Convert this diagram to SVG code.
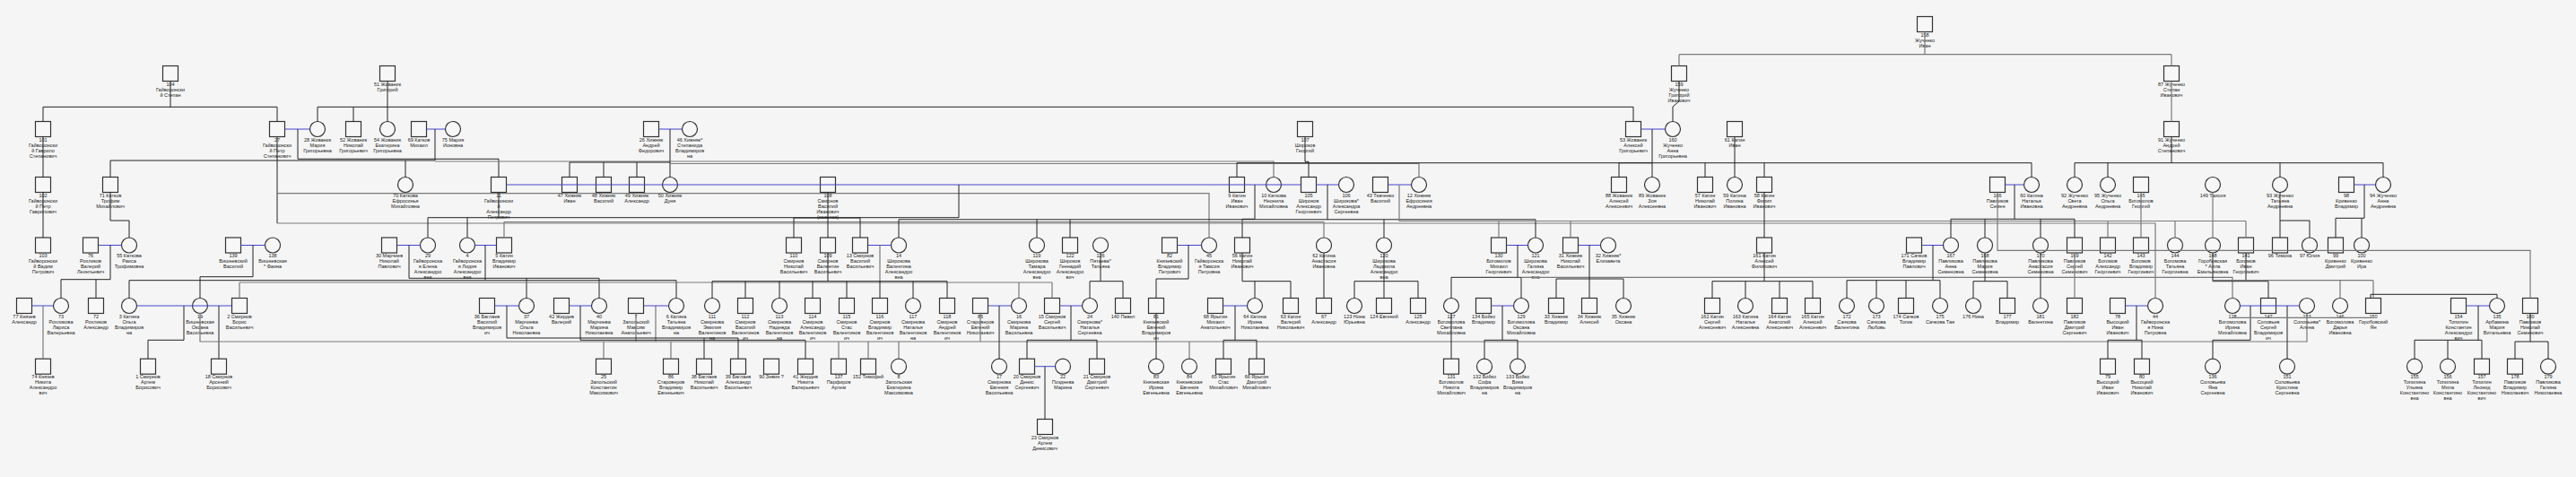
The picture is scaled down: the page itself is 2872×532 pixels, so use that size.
<svg xmlns="http://www.w3.org/2000/svg" xmlns:xlink="http://www.w3.org/1999/xlink" width="2872" height="532" viewBox="0 0 2872 532">
<style>
.nd{fill:#f7f7f7;stroke:#333;stroke-width:1.2}
text{font-family:"Liberation Sans",Arial,sans-serif;font-size:5.5px;fill:#222;text-anchor:middle}
.k{fill:none;stroke:#222;stroke-width:1}
.g{fill:none;stroke:#7a7a7a;stroke-width:1.2}
.b{fill:none;stroke:#4545d0;stroke-width:1}
</style>
<defs>
<rect id="S" class="nd" x="-8.5" y="-8.5" width="17" height="17"/>
<circle id="C" class="nd" r="8.5"/>
</defs>
<rect width="2872" height="532" fill="#f5f5f5"/>
<g id="nodes">
<g id="n158" transform="translate(2146 27)"><use href="#S"/><text y="13.5"><tspan x="0">158</tspan><tspan x="0" dy="6">Жученко</tspan><tspan x="0" dy="6">Иван</tspan></text></g>
<g id="n104" transform="translate(190 82)"><use href="#S"/><text y="13.5"><tspan x="0">104</tspan><tspan x="0" dy="6">Гайворонски</tspan><tspan x="0" dy="6">й Степан</tspan></text></g>
<g id="n51" transform="translate(432 82)"><use href="#S"/><text y="13.5"><tspan x="0">51 Жованик</tspan><tspan x="0" dy="6">Григорий</tspan></text></g>
<g id="n159" transform="translate(1872 82)"><use href="#S"/><text y="13.5"><tspan x="0">159</tspan><tspan x="0" dy="6">Жученко</tspan><tspan x="0" dy="6">Григорий</tspan><tspan x="0" dy="6">Иванович</tspan></text></g>
<g id="n87" transform="translate(2421 82)"><use href="#S"/><text y="13.5"><tspan x="0">87 Жученко</tspan><tspan x="0" dy="6">Степан</tspan><tspan x="0" dy="6">Иванович</tspan></text></g>
<g id="n101" transform="translate(48 144)"><use href="#S"/><text y="13.5"><tspan x="0">101</tspan><tspan x="0" dy="6">Гайворонски</tspan><tspan x="0" dy="6">й Гаврило</tspan><tspan x="0" dy="6">Степанович</tspan></text></g>
<g id="n27" transform="translate(309 144)"><use href="#S"/><text y="13.5"><tspan x="0">27</tspan><tspan x="0" dy="6">Гайворонски</tspan><tspan x="0" dy="6">й Петр</tspan><tspan x="0" dy="6">Степанович</tspan></text></g>
<g id="n28" transform="translate(354 144)"><use href="#C"/><text y="13.5"><tspan x="0">28 Жованик</tspan><tspan x="0" dy="6">Мария</tspan><tspan x="0" dy="6">Григорьевна</tspan></text></g>
<g id="n52" transform="translate(394 144)"><use href="#S"/><text y="13.5"><tspan x="0">52 Жованик</tspan><tspan x="0" dy="6">Николай</tspan><tspan x="0" dy="6">Григорьевич</tspan></text></g>
<g id="n54" transform="translate(432 144)"><use href="#C"/><text y="13.5"><tspan x="0">54 Жованик</tspan><tspan x="0" dy="6">Екатерина</tspan><tspan x="0" dy="6">Григорьевна</tspan></text></g>
<g id="n69" transform="translate(467 144)"><use href="#S"/><text y="13.5"><tspan x="0">69 Катков</tspan><tspan x="0" dy="6">Михаил</tspan></text></g>
<g id="n75" transform="translate(505 144)"><use href="#C"/><text y="13.5"><tspan x="0">75  Мария</tspan><tspan x="0" dy="6">Ионовна</tspan></text></g>
<g id="n26" transform="translate(726 144)"><use href="#S"/><text y="13.5"><tspan x="0">26 Хижняк</tspan><tspan x="0" dy="6">Андрей</tspan><tspan x="0" dy="6">Федорович</tspan></text></g>
<g id="n46" transform="translate(769 144)"><use href="#C"/><text y="13.5"><tspan x="0">46 Хижняк*</tspan><tspan x="0" dy="6">Степанида</tspan><tspan x="0" dy="6">Владимиров</tspan><tspan x="0" dy="6">на</tspan></text></g>
<g id="n107" transform="translate(1455 144)"><use href="#S"/><text y="13.5"><tspan x="0">107</tspan><tspan x="0" dy="6">Широков</tspan><tspan x="0" dy="6">Георгий</tspan></text></g>
<g id="n53" transform="translate(1821 144)"><use href="#S"/><text y="13.5"><tspan x="0">53 Жованик</tspan><tspan x="0" dy="6">Алексей</tspan><tspan x="0" dy="6">Григорьевич</tspan></text></g>
<g id="n160" transform="translate(1865 144)"><use href="#C"/><text y="13.5"><tspan x="0">160</tspan><tspan x="0" dy="6">Жученко</tspan><tspan x="0" dy="6">Анна</tspan><tspan x="0" dy="6">Григорьевна</tspan></text></g>
<g id="n61" transform="translate(1934 144)"><use href="#S"/><text y="13.5"><tspan x="0">61 Катин</tspan><tspan x="0" dy="6">Иван</tspan></text></g>
<g id="n91" transform="translate(2421 144)"><use href="#S"/><text y="13.5"><tspan x="0">91 Жученко</tspan><tspan x="0" dy="6">Андрей</tspan><tspan x="0" dy="6">Степанович</tspan></text></g>
<g id="n102" transform="translate(48 206)"><use href="#S"/><text y="13.5"><tspan x="0">102</tspan><tspan x="0" dy="6">Гайворонски</tspan><tspan x="0" dy="6">й Петр</tspan><tspan x="0" dy="6">Гаврилович</tspan></text></g>
<g id="n71" transform="translate(123 206)"><use href="#S"/><text y="13.5"><tspan x="0">71 Катков</tspan><tspan x="0" dy="6">Трофим</tspan><tspan x="0" dy="6">Михайлович</tspan></text></g>
<g id="n70" transform="translate(452 206)"><use href="#C"/><text y="13.5"><tspan x="0">70 Каткова</tspan><tspan x="0" dy="6">Ефросинья</tspan><tspan x="0" dy="6">Михайловна</tspan></text></g>
<g id="n11" transform="translate(556 206)"><use href="#S"/><text y="13.5"><tspan x="0">11</tspan><tspan x="0" dy="6">Гайворонски</tspan><tspan x="0" dy="6">й</tspan><tspan x="0" dy="6">Александр</tspan><tspan x="0" dy="6">Петрович</tspan></text></g>
<g id="n47" transform="translate(635 206)"><use href="#S"/><text y="13.5"><tspan x="0">47 Хижняк</tspan><tspan x="0" dy="6">Иван</tspan></text></g>
<g id="n48" transform="translate(673 206)"><use href="#S"/><text y="13.5"><tspan x="0">48 Хижняк</tspan><tspan x="0" dy="6">Василий</tspan></text></g>
<g id="n49" transform="translate(710 206)"><use href="#S"/><text y="13.5"><tspan x="0">49 Хижняк</tspan><tspan x="0" dy="6">Александр</tspan></text></g>
<g id="n50" transform="translate(747 206)"><use href="#C"/><text y="13.5"><tspan x="0">50 Хижняк</tspan><tspan x="0" dy="6">Дуня</tspan></text></g>
<g id="n108" transform="translate(923 206)"><use href="#S"/><text y="13.5"><tspan x="0">108</tspan><tspan x="0" dy="6">Смирнов</tspan><tspan x="0" dy="6">Василий</tspan><tspan x="0" dy="6">Иванович</tspan><tspan x="0" dy="6">(кажется)</tspan></text></g>
<g id="n9" transform="translate(1379 206)"><use href="#S"/><text y="13.5"><tspan x="0">9 Катин</tspan><tspan x="0" dy="6">Иван</tspan><tspan x="0" dy="6">Иванович</tspan></text></g>
<g id="n10" transform="translate(1420 206)"><use href="#C"/><text y="13.5"><tspan x="0">10 Каткова</tspan><tspan x="0" dy="6">Неонила</tspan><tspan x="0" dy="6">Михайловна</tspan></text></g>
<g id="n105" transform="translate(1459 206)"><use href="#S"/><text y="13.5"><tspan x="0">105</tspan><tspan x="0" dy="6">Широков</tspan><tspan x="0" dy="6">Александр</tspan><tspan x="0" dy="6">Георгиевич</tspan></text></g>
<g id="n106" transform="translate(1501 206)"><use href="#C"/><text y="13.5"><tspan x="0">106</tspan><tspan x="0" dy="6">Широкова*</tspan><tspan x="0" dy="6">Александра</tspan><tspan x="0" dy="6">Сергеевна</tspan></text></g>
<g id="n43" transform="translate(1539 206)"><use href="#S"/><text y="13.5"><tspan x="0">43 Ткаченко</tspan><tspan x="0" dy="6">Василий</tspan></text></g>
<g id="n12" transform="translate(1582 206)"><use href="#C"/><text y="13.5"><tspan x="0">12 Хижняк</tspan><tspan x="0" dy="6">Ефросиния</tspan><tspan x="0" dy="6">Андреевна</tspan></text></g>
<g id="n88" transform="translate(1805 206)"><use href="#S"/><text y="13.5"><tspan x="0">88 Жованик</tspan><tspan x="0" dy="6">Алексей</tspan><tspan x="0" dy="6">Алексеевич</tspan></text></g>
<g id="n89" transform="translate(1842 206)"><use href="#C"/><text y="13.5"><tspan x="0">89 Жованик</tspan><tspan x="0" dy="6">Зоя</tspan><tspan x="0" dy="6">Алексеевна</tspan></text></g>
<g id="n57" transform="translate(1901 206)"><use href="#S"/><text y="13.5"><tspan x="0">57 Катин</tspan><tspan x="0" dy="6">Николай</tspan><tspan x="0" dy="6">Иванович</tspan></text></g>
<g id="n59" transform="translate(1934 206)"><use href="#C"/><text y="13.5"><tspan x="0">59 Катина</tspan><tspan x="0" dy="6">Полина</tspan><tspan x="0" dy="6">Ивановна</tspan></text></g>
<g id="n58" transform="translate(1967 206)"><use href="#S"/><text y="13.5"><tspan x="0">58 Катин</tspan><tspan x="0" dy="6">Филип</tspan><tspan x="0" dy="6">Иванович</tspan></text></g>
<g id="n166" transform="translate(2227 206)"><use href="#S"/><text y="13.5"><tspan x="0">166</tspan><tspan x="0" dy="6">Павликов</tspan><tspan x="0" dy="6">Семен</tspan></text></g>
<g id="n60" transform="translate(2265 206)"><use href="#C"/><text y="13.5"><tspan x="0">60 Катина</tspan><tspan x="0" dy="6">Наталья</tspan><tspan x="0" dy="6">Ивановна</tspan></text></g>
<g id="n92" transform="translate(2313 206)"><use href="#C"/><text y="13.5"><tspan x="0">92 Жученко</tspan><tspan x="0" dy="6">Света</tspan><tspan x="0" dy="6">Андреевна</tspan></text></g>
<g id="n95" transform="translate(2350 206)"><use href="#C"/><text y="13.5"><tspan x="0">95 Жученко</tspan><tspan x="0" dy="6">Ольга</tspan><tspan x="0" dy="6">Андреевна</tspan></text></g>
<g id="n145" transform="translate(2387 206)"><use href="#S"/><text y="13.5"><tspan x="0">145</tspan><tspan x="0" dy="6">Богомолов</tspan><tspan x="0" dy="6">Георгий</tspan></text></g>
<g id="n149" transform="translate(2467 206)"><use href="#C"/><text y="13.5"><tspan x="0">149  Таисия</tspan></text></g>
<g id="n93" transform="translate(2542 206)"><use href="#C"/><text y="13.5"><tspan x="0">93 Жученко</tspan><tspan x="0" dy="6">Татьяна</tspan><tspan x="0" dy="6">Андреевна</tspan></text></g>
<g id="n98" transform="translate(2616 206)"><use href="#S"/><text y="13.5"><tspan x="0">98</tspan><tspan x="0" dy="6">Кривенко</tspan><tspan x="0" dy="6">Владимир</tspan></text></g>
<g id="n94" transform="translate(2657 206)"><use href="#C"/><text y="13.5"><tspan x="0">94 Жученко</tspan><tspan x="0" dy="6">Анна</tspan><tspan x="0" dy="6">Андреевна</tspan></text></g>
<g id="n103" transform="translate(48 273.5)"><use href="#S"/><text y="13.5"><tspan x="0">103</tspan><tspan x="0" dy="6">Гайворонски</tspan><tspan x="0" dy="6">й Вадим</tspan><tspan x="0" dy="6">Петрович</tspan></text></g>
<g id="n76" transform="translate(101 273.5)"><use href="#S"/><text y="13.5"><tspan x="0">76</tspan><tspan x="0" dy="6">Рохликов</tspan><tspan x="0" dy="6">Валерий</tspan><tspan x="0" dy="6">Леонтьевич</tspan></text></g>
<g id="n55" transform="translate(144 273.5)"><use href="#C"/><text y="13.5"><tspan x="0">55 Каткова</tspan><tspan x="0" dy="6">Раиса</tspan><tspan x="0" dy="6">Трофимовна</tspan></text></g>
<g id="n139" transform="translate(260 273.5)"><use href="#S"/><text y="13.5"><tspan x="0">139</tspan><tspan x="0" dy="6">Вишневский</tspan><tspan x="0" dy="6">Василий</tspan></text></g>
<g id="n138" transform="translate(304 273.5)"><use href="#C"/><text y="13.5"><tspan x="0">138</tspan><tspan x="0" dy="6">Вишневская</tspan><tspan x="0" dy="6">* Фаина</tspan></text></g>
<g id="n30" transform="translate(434 273.5)"><use href="#S"/><text y="13.5"><tspan x="0">30 Марчиев</tspan><tspan x="0" dy="6">Николай</tspan><tspan x="0" dy="6">Павлович</tspan></text></g>
<g id="n29" transform="translate(477 273.5)"><use href="#C"/><text y="13.5"><tspan x="0">29</tspan><tspan x="0" dy="6">Гайворонска</tspan><tspan x="0" dy="6">я Елена</tspan><tspan x="0" dy="6">Александро</tspan><tspan x="0" dy="6">вна</tspan></text></g>
<g id="n4" transform="translate(521 273.5)"><use href="#C"/><text y="13.5"><tspan x="0">4</tspan><tspan x="0" dy="6">Гайворонска</tspan><tspan x="0" dy="6">я Лидия</tspan><tspan x="0" dy="6">Александро</tspan><tspan x="0" dy="6">вна</tspan></text></g>
<g id="n5" transform="translate(562 273.5)"><use href="#S"/><text y="13.5"><tspan x="0">5 Катин</tspan><tspan x="0" dy="6">Владимир</tspan><tspan x="0" dy="6">Иванович</tspan></text></g>
<g id="n110" transform="translate(885 273.5)"><use href="#S"/><text y="13.5"><tspan x="0">110</tspan><tspan x="0" dy="6">Смирнов</tspan><tspan x="0" dy="6">Николай</tspan><tspan x="0" dy="6">Васильевич</tspan></text></g>
<g id="n109" transform="translate(923 273.5)"><use href="#S"/><text y="13.5"><tspan x="0">109</tspan><tspan x="0" dy="6">Смирнов</tspan><tspan x="0" dy="6">Валентин</tspan><tspan x="0" dy="6">Васильевич</tspan></text></g>
<g id="n13" transform="translate(959 273.5)"><use href="#S"/><text y="13.5"><tspan x="0">13 Смирнов</tspan><tspan x="0" dy="6">Василий</tspan><tspan x="0" dy="6">Васильевич</tspan></text></g>
<g id="n14" transform="translate(1002 273.5)"><use href="#C"/><text y="13.5"><tspan x="0">14</tspan><tspan x="0" dy="6">Широкова</tspan><tspan x="0" dy="6">Валентина</tspan><tspan x="0" dy="6">Александро</tspan><tspan x="0" dy="6">вна</tspan></text></g>
<g id="n119" transform="translate(1156 273.5)"><use href="#C"/><text y="13.5"><tspan x="0">119</tspan><tspan x="0" dy="6">Широкова</tspan><tspan x="0" dy="6">Тамара</tspan><tspan x="0" dy="6">Александро</tspan><tspan x="0" dy="6">вна</tspan></text></g>
<g id="n122" transform="translate(1193 273.5)"><use href="#S"/><text y="13.5"><tspan x="0">122</tspan><tspan x="0" dy="6">Широков</tspan><tspan x="0" dy="6">Геннадий</tspan><tspan x="0" dy="6">Александро</tspan><tspan x="0" dy="6">вич</tspan></text></g>
<g id="n126" transform="translate(1227 273.5)"><use href="#C"/><text y="13.5"><tspan x="0">126</tspan><tspan x="0" dy="6">Пятаева*</tspan><tspan x="0" dy="6">Татьяна</tspan></text></g>
<g id="n82" transform="translate(1304 273.5)"><use href="#S"/><text y="13.5"><tspan x="0">82</tspan><tspan x="0" dy="6">Князевский</tspan><tspan x="0" dy="6">Владимир</tspan><tspan x="0" dy="6">Петрович</tspan></text></g>
<g id="n45" transform="translate(1348 273.5)"><use href="#C"/><text y="13.5"><tspan x="0">45</tspan><tspan x="0" dy="6">Гайворонска</tspan><tspan x="0" dy="6">я Тамсия</tspan><tspan x="0" dy="6">Петровна</tspan></text></g>
<g id="n56" transform="translate(1385 273.5)"><use href="#S"/><text y="13.5"><tspan x="0">56 Катин</tspan><tspan x="0" dy="6">Николай</tspan><tspan x="0" dy="6">Иванович</tspan></text></g>
<g id="n62" transform="translate(1476 273.5)"><use href="#C"/><text y="13.5"><tspan x="0">62 Катина</tspan><tspan x="0" dy="6">Анастасия</tspan><tspan x="0" dy="6">Ивановна</tspan></text></g>
<g id="n120" transform="translate(1543 273.5)"><use href="#C"/><text y="13.5"><tspan x="0">120</tspan><tspan x="0" dy="6">Широкова</tspan><tspan x="0" dy="6">Людмила</tspan><tspan x="0" dy="6">Александро</tspan><tspan x="0" dy="6">вна</tspan></text></g>
<g id="n130" transform="translate(1671 273.5)"><use href="#S"/><text y="13.5"><tspan x="0">130</tspan><tspan x="0" dy="6">Богомолов</tspan><tspan x="0" dy="6">Михаил</tspan><tspan x="0" dy="6">Георгиевич</tspan></text></g>
<g id="n121" transform="translate(1712 273.5)"><use href="#C"/><text y="13.5"><tspan x="0">121</tspan><tspan x="0" dy="6">Широкова</tspan><tspan x="0" dy="6">Галина</tspan><tspan x="0" dy="6">Александро</tspan><tspan x="0" dy="6">вна</tspan></text></g>
<g id="n31" transform="translate(1751 273.5)"><use href="#S"/><text y="13.5"><tspan x="0">31 Хижняк</tspan><tspan x="0" dy="6">Николай</tspan><tspan x="0" dy="6">Васильевич</tspan></text></g>
<g id="n32" transform="translate(1793 273.5)"><use href="#C"/><text y="13.5"><tspan x="0">32 Хижняк*</tspan><tspan x="0" dy="6">Елизавета</tspan></text></g>
<g id="n161" transform="translate(1967 273.5)"><use href="#S"/><text y="13.5"><tspan x="0">161 Катин</tspan><tspan x="0" dy="6">Алексей</tspan><tspan x="0" dy="6">Филипович</tspan></text></g>
<g id="n171" transform="translate(2134 273.5)"><use href="#S"/><text y="13.5"><tspan x="0">171 Сачков</tspan><tspan x="0" dy="6">Владимир</tspan><tspan x="0" dy="6">Павлович</tspan></text></g>
<g id="n167" transform="translate(2175 273.5)"><use href="#C"/><text y="13.5"><tspan x="0">167</tspan><tspan x="0" dy="6">Павликова</tspan><tspan x="0" dy="6">Анна</tspan><tspan x="0" dy="6">Семеновна</tspan></text></g>
<g id="n168" transform="translate(2213 273.5)"><use href="#C"/><text y="13.5"><tspan x="0">168</tspan><tspan x="0" dy="6">Павликова</tspan><tspan x="0" dy="6">Мария</tspan><tspan x="0" dy="6">Семеновна</tspan></text></g>
<g id="n170" transform="translate(2275 273.5)"><use href="#C"/><text y="13.5"><tspan x="0">170</tspan><tspan x="0" dy="6">Павликова</tspan><tspan x="0" dy="6">Анастасия</tspan><tspan x="0" dy="6">Семеновна</tspan></text></g>
<g id="n169" transform="translate(2313 273.5)"><use href="#S"/><text y="13.5"><tspan x="0">169</tspan><tspan x="0" dy="6">Павликов</tspan><tspan x="0" dy="6">Сергей</tspan><tspan x="0" dy="6">Семенович</tspan></text></g>
<g id="n142" transform="translate(2350 273.5)"><use href="#S"/><text y="13.5"><tspan x="0">142</tspan><tspan x="0" dy="6">Богомов</tspan><tspan x="0" dy="6">Александр</tspan><tspan x="0" dy="6">Георгиевич</tspan></text></g>
<g id="n143" transform="translate(2387 273.5)"><use href="#S"/><text y="13.5"><tspan x="0">143</tspan><tspan x="0" dy="6">Богомов</tspan><tspan x="0" dy="6">Владимир</tspan><tspan x="0" dy="6">Георгиевич</tspan></text></g>
<g id="n144" transform="translate(2425 273.5)"><use href="#C"/><text y="13.5"><tspan x="0">144</tspan><tspan x="0" dy="6">Богомова</tspan><tspan x="0" dy="6">Татьяна</tspan><tspan x="0" dy="6">Георгиевна</tspan></text></g>
<g id="n148" transform="translate(2467 273.5)"><use href="#C"/><text y="13.5"><tspan x="0">148</tspan><tspan x="0" dy="6">Горобовская</tspan><tspan x="0" dy="6">* Алла</tspan><tspan x="0" dy="6">Емельяновна</tspan></text></g>
<g id="n141" transform="translate(2504 273.5)"><use href="#S"/><text y="13.5"><tspan x="0">141</tspan><tspan x="0" dy="6">Богомов</tspan><tspan x="0" dy="6">Иван</tspan><tspan x="0" dy="6">Георгиевич</tspan></text></g>
<g id="n96" transform="translate(2542 273.5)"><use href="#S"/><text y="13.5"><tspan x="0">96  Тимоха</tspan></text></g>
<g id="n97" transform="translate(2575 273.5)"><use href="#C"/><text y="13.5"><tspan x="0">97  Юлия</tspan></text></g>
<g id="n99" transform="translate(2604 273.5)"><use href="#S"/><text y="13.5"><tspan x="0">99</tspan><tspan x="0" dy="6">Кривенко</tspan><tspan x="0" dy="6">Дмитрий</tspan></text></g>
<g id="n100" transform="translate(2633 273.5)"><use href="#C"/><text y="13.5"><tspan x="0">100</tspan><tspan x="0" dy="6">Кривенко</tspan><tspan x="0" dy="6">Ира</tspan></text></g>
<g id="n77" transform="translate(27 341)"><use href="#S"/><text y="13.5"><tspan x="0">77 Князев</tspan><tspan x="0" dy="6">Александр</tspan></text></g>
<g id="n73" transform="translate(68 341)"><use href="#C"/><text y="13.5"><tspan x="0">73</tspan><tspan x="0" dy="6">Рохликова</tspan><tspan x="0" dy="6">Лариса</tspan><tspan x="0" dy="6">Валерьевна</tspan></text></g>
<g id="n72" transform="translate(107 341)"><use href="#S"/><text y="13.5"><tspan x="0">72</tspan><tspan x="0" dy="6">Рохликов</tspan><tspan x="0" dy="6">Александр</tspan></text></g>
<g id="n3" transform="translate(144 341)"><use href="#C"/><text y="13.5"><tspan x="0">3 Катина</tspan><tspan x="0" dy="6">Ольга</tspan><tspan x="0" dy="6">Владимиров</tspan><tspan x="0" dy="6">на</tspan></text></g>
<g id="n19" transform="translate(223 341)"><use href="#C"/><text y="13.5"><tspan x="0">19</tspan><tspan x="0" dy="6">Вишневская</tspan><tspan x="0" dy="6">Оксана</tspan><tspan x="0" dy="6">Васильевна</tspan></text></g>
<g id="n2" transform="translate(267 341)"><use href="#S"/><text y="13.5"><tspan x="0">2 Смирнов</tspan><tspan x="0" dy="6">Борис</tspan><tspan x="0" dy="6">Васильевич</tspan></text></g>
<g id="n36" transform="translate(543 341)"><use href="#S"/><text y="13.5"><tspan x="0">36 Баглаев</tspan><tspan x="0" dy="6">Василий</tspan><tspan x="0" dy="6">Владимиров</tspan><tspan x="0" dy="6">ич</tspan></text></g>
<g id="n37" transform="translate(587 341)"><use href="#C"/><text y="13.5"><tspan x="0">37</tspan><tspan x="0" dy="6">Марчиева</tspan><tspan x="0" dy="6">Ольга</tspan><tspan x="0" dy="6">Николаевна</tspan></text></g>
<g id="n42" transform="translate(626 341)"><use href="#S"/><text y="13.5"><tspan x="0">42 Жердев</tspan><tspan x="0" dy="6">Валерий</tspan></text></g>
<g id="n40" transform="translate(668 341)"><use href="#C"/><text y="13.5"><tspan x="0">40</tspan><tspan x="0" dy="6">Марчиева</tspan><tspan x="0" dy="6">Марина</tspan><tspan x="0" dy="6">Николаевна</tspan></text></g>
<g id="n7" transform="translate(709 341)"><use href="#S"/><text y="13.5"><tspan x="0">7</tspan><tspan x="0" dy="6">Запольский</tspan><tspan x="0" dy="6">Максим</tspan><tspan x="0" dy="6">Анатольевич</tspan></text></g>
<g id="n6" transform="translate(754 341)"><use href="#C"/><text y="13.5"><tspan x="0">6 Катина</tspan><tspan x="0" dy="6">Татьяна</tspan><tspan x="0" dy="6">Владимиров</tspan><tspan x="0" dy="6">на</tspan></text></g>
<g id="n111" transform="translate(794 341)"><use href="#C"/><text y="13.5"><tspan x="0">111</tspan><tspan x="0" dy="6">Смирнова</tspan><tspan x="0" dy="6">Эмилия</tspan><tspan x="0" dy="6">Валентинов</tspan><tspan x="0" dy="6">на</tspan></text></g>
<g id="n112" transform="translate(831 341)"><use href="#S"/><text y="13.5"><tspan x="0">112</tspan><tspan x="0" dy="6">Смирнов</tspan><tspan x="0" dy="6">Василий</tspan><tspan x="0" dy="6">Валентинов</tspan><tspan x="0" dy="6">ич</tspan></text></g>
<g id="n113" transform="translate(869 341)"><use href="#C"/><text y="13.5"><tspan x="0">113</tspan><tspan x="0" dy="6">Смирнова</tspan><tspan x="0" dy="6">Надежда</tspan><tspan x="0" dy="6">Валентинов</tspan><tspan x="0" dy="6">на</tspan></text></g>
<g id="n114" transform="translate(906 341)"><use href="#S"/><text y="13.5"><tspan x="0">114</tspan><tspan x="0" dy="6">Смирнов</tspan><tspan x="0" dy="6">Александр</tspan><tspan x="0" dy="6">Валентинов</tspan><tspan x="0" dy="6">ич</tspan></text></g>
<g id="n115" transform="translate(944 341)"><use href="#S"/><text y="13.5"><tspan x="0">115</tspan><tspan x="0" dy="6">Смирнов</tspan><tspan x="0" dy="6">Стас</tspan><tspan x="0" dy="6">Валентинов</tspan><tspan x="0" dy="6">ич</tspan></text></g>
<g id="n116" transform="translate(981 341)"><use href="#S"/><text y="13.5"><tspan x="0">116</tspan><tspan x="0" dy="6">Смирнов</tspan><tspan x="0" dy="6">Владимир</tspan><tspan x="0" dy="6">Валентинов</tspan><tspan x="0" dy="6">ич</tspan></text></g>
<g id="n117" transform="translate(1018 341)"><use href="#C"/><text y="13.5"><tspan x="0">117</tspan><tspan x="0" dy="6">Смирнова</tspan><tspan x="0" dy="6">Наталья</tspan><tspan x="0" dy="6">Валентинов</tspan><tspan x="0" dy="6">на</tspan></text></g>
<g id="n118" transform="translate(1056 341)"><use href="#S"/><text y="13.5"><tspan x="0">118</tspan><tspan x="0" dy="6">Смирнов</tspan><tspan x="0" dy="6">Андрей</tspan><tspan x="0" dy="6">Валентинов</tspan><tspan x="0" dy="6">ич</tspan></text></g>
<g id="n85" transform="translate(1093 341)"><use href="#S"/><text y="13.5"><tspan x="0">85</tspan><tspan x="0" dy="6">Староверов</tspan><tspan x="0" dy="6">Евгений</tspan><tspan x="0" dy="6">Николаевич</tspan></text></g>
<g id="n16" transform="translate(1136 341)"><use href="#C"/><text y="13.5"><tspan x="0">16</tspan><tspan x="0" dy="6">Смирнова</tspan><tspan x="0" dy="6">Марина</tspan><tspan x="0" dy="6">Васильевна</tspan></text></g>
<g id="n15" transform="translate(1173 341)"><use href="#S"/><text y="13.5"><tspan x="0">15 Смирнов</tspan><tspan x="0" dy="6">Сергей</tspan><tspan x="0" dy="6">Васильевич</tspan></text></g>
<g id="n24" transform="translate(1215 341)"><use href="#C"/><text y="13.5"><tspan x="0">24</tspan><tspan x="0" dy="6">Смирнова*</tspan><tspan x="0" dy="6">Наталья</tspan><tspan x="0" dy="6">Сергеевна</tspan></text></g>
<g id="n140" transform="translate(1252 341)"><use href="#S"/><text y="13.5"><tspan x="0">140  Павел</tspan></text></g>
<g id="n81" transform="translate(1289 341)"><use href="#S"/><text y="13.5"><tspan x="0">81</tspan><tspan x="0" dy="6">Князевский</tspan><tspan x="0" dy="6">Евгений</tspan><tspan x="0" dy="6">Владимиров</tspan><tspan x="0" dy="6">ич</tspan></text></g>
<g id="n68" transform="translate(1355 341)"><use href="#S"/><text y="13.5"><tspan x="0">68 Ярыгин</tspan><tspan x="0" dy="6">Михаил</tspan><tspan x="0" dy="6">Анатольевич</tspan></text></g>
<g id="n64" transform="translate(1399 341)"><use href="#C"/><text y="13.5"><tspan x="0">64 Катина</tspan><tspan x="0" dy="6">Ирина</tspan><tspan x="0" dy="6">Николаевна</tspan></text></g>
<g id="n63" transform="translate(1439 341)"><use href="#S"/><text y="13.5"><tspan x="0">63 Катин</tspan><tspan x="0" dy="6">Валерий</tspan><tspan x="0" dy="6">Николаевич</tspan></text></g>
<g id="n67" transform="translate(1476 341)"><use href="#S"/><text y="13.5"><tspan x="0">67</tspan><tspan x="0" dy="6">Александр</tspan></text></g>
<g id="n123" transform="translate(1510 341)"><use href="#C"/><text y="13.5"><tspan x="0">123  Нона</tspan><tspan x="0" dy="6">Юрьевна</tspan></text></g>
<g id="n124" transform="translate(1543 341)"><use href="#S"/><text y="13.5"><tspan x="0">124  Евгений</tspan></text></g>
<g id="n125" transform="translate(1581 341)"><use href="#S"/><text y="13.5"><tspan x="0">125</tspan><tspan x="0" dy="6">Александр</tspan></text></g>
<g id="n127" transform="translate(1618 341)"><use href="#C"/><text y="13.5"><tspan x="0">127</tspan><tspan x="0" dy="6">Богомолова</tspan><tspan x="0" dy="6">Светлана</tspan><tspan x="0" dy="6">Михайловна</tspan></text></g>
<g id="n134" transform="translate(1654 341)"><use href="#S"/><text y="13.5"><tspan x="0">134 Бойко</tspan><tspan x="0" dy="6">Владимир</tspan></text></g>
<g id="n129" transform="translate(1696 341)"><use href="#C"/><text y="13.5"><tspan x="0">129</tspan><tspan x="0" dy="6">Богомолова</tspan><tspan x="0" dy="6">Оксана</tspan><tspan x="0" dy="6">Михайловна</tspan></text></g>
<g id="n33" transform="translate(1735 341)"><use href="#S"/><text y="13.5"><tspan x="0">33 Хижняк</tspan><tspan x="0" dy="6">Владимир</tspan></text></g>
<g id="n34" transform="translate(1772 341)"><use href="#S"/><text y="13.5"><tspan x="0">34 Хижняк</tspan><tspan x="0" dy="6">Алексей</tspan></text></g>
<g id="n35" transform="translate(1810 341)"><use href="#C"/><text y="13.5"><tspan x="0">35 Хижняк</tspan><tspan x="0" dy="6">Оксана</tspan></text></g>
<g id="n162" transform="translate(1909 341)"><use href="#S"/><text y="13.5"><tspan x="0">162 Катин</tspan><tspan x="0" dy="6">Сергей</tspan><tspan x="0" dy="6">Алексеевич</tspan></text></g>
<g id="n163" transform="translate(1946 341)"><use href="#C"/><text y="13.5"><tspan x="0">163 Катина</tspan><tspan x="0" dy="6">Наталья</tspan><tspan x="0" dy="6">Алексеевна</tspan></text></g>
<g id="n164" transform="translate(1984 341)"><use href="#S"/><text y="13.5"><tspan x="0">164 Катин</tspan><tspan x="0" dy="6">Анатолий</tspan><tspan x="0" dy="6">Алексеевич</tspan></text></g>
<g id="n165" transform="translate(2021 341)"><use href="#S"/><text y="13.5"><tspan x="0">165 Катин</tspan><tspan x="0" dy="6">Алексей</tspan><tspan x="0" dy="6">Алексеевич</tspan></text></g>
<g id="n172" transform="translate(2059 341)"><use href="#C"/><text y="13.5"><tspan x="0">172</tspan><tspan x="0" dy="6">Сачкова</tspan><tspan x="0" dy="6">Валентина</tspan></text></g>
<g id="n173" transform="translate(2092 341)"><use href="#C"/><text y="13.5"><tspan x="0">173</tspan><tspan x="0" dy="6">Сачкова</tspan><tspan x="0" dy="6">Любовь</tspan></text></g>
<g id="n174" transform="translate(2125 341)"><use href="#S"/><text y="13.5"><tspan x="0">174 Сачков</tspan><tspan x="0" dy="6">Толик</tspan></text></g>
<g id="n175" transform="translate(2163 341)"><use href="#C"/><text y="13.5"><tspan x="0">175</tspan><tspan x="0" dy="6">Сачкова Тая</tspan></text></g>
<g id="n176" transform="translate(2200 341)"><use href="#C"/><text y="13.5"><tspan x="0">176  Нина</tspan></text></g>
<g id="n177" transform="translate(2238 341)"><use href="#S"/><text y="13.5"><tspan x="0">177</tspan><tspan x="0" dy="6">Владимир</tspan></text></g>
<g id="n181" transform="translate(2275 341)"><use href="#C"/><text y="13.5"><tspan x="0">181</tspan><tspan x="0" dy="6">Валентина</tspan></text></g>
<g id="n182" transform="translate(2313 341)"><use href="#S"/><text y="13.5"><tspan x="0">182</tspan><tspan x="0" dy="6">Павликов</tspan><tspan x="0" dy="6">Дмитрий</tspan><tspan x="0" dy="6">Сергеевич</tspan></text></g>
<g id="n78" transform="translate(2361 341)"><use href="#S"/><text y="13.5"><tspan x="0">78</tspan><tspan x="0" dy="6">Высоцкий</tspan><tspan x="0" dy="6">Иван</tspan><tspan x="0" dy="6">Иванович</tspan></text></g>
<g id="n44" transform="translate(2403 341)"><use href="#C"/><text y="13.5"><tspan x="0">44</tspan><tspan x="0" dy="6">Гайворонска</tspan><tspan x="0" dy="6">я Нина</tspan><tspan x="0" dy="6">Петровна</tspan></text></g>
<g id="n128" transform="translate(2489 341)"><use href="#C"/><text y="13.5"><tspan x="0">128</tspan><tspan x="0" dy="6">Богомолова</tspan><tspan x="0" dy="6">Ирина</tspan><tspan x="0" dy="6">Михайловна</tspan></text></g>
<g id="n147" transform="translate(2529 341)"><use href="#S"/><text y="13.5"><tspan x="0">147</tspan><tspan x="0" dy="6">Соловьев</tspan><tspan x="0" dy="6">Сергей</tspan><tspan x="0" dy="6">Владимиров</tspan><tspan x="0" dy="6">ич</tspan></text></g>
<g id="n153" transform="translate(2572 341)"><use href="#C"/><text y="13.5"><tspan x="0">153</tspan><tspan x="0" dy="6">Соловьева*</tspan><tspan x="0" dy="6">Алена</tspan></text></g>
<g id="n146" transform="translate(2609 341)"><use href="#C"/><text y="13.5"><tspan x="0">146</tspan><tspan x="0" dy="6">Богомолова</tspan><tspan x="0" dy="6">Дарья</tspan><tspan x="0" dy="6">Ивановна</tspan></text></g>
<g id="n150" transform="translate(2646 341)"><use href="#S"/><text y="13.5"><tspan x="0">150</tspan><tspan x="0" dy="6">Горобовский</tspan><tspan x="0" dy="6">Ян</tspan></text></g>
<g id="n154" transform="translate(2741 341)"><use href="#S"/><text y="13.5"><tspan x="0">154</tspan><tspan x="0" dy="6">Топилин</tspan><tspan x="0" dy="6">Константин</tspan><tspan x="0" dy="6">Александро</tspan><tspan x="0" dy="6">вич</tspan></text></g>
<g id="n135" transform="translate(2784 341)"><use href="#C"/><text y="13.5"><tspan x="0">135</tspan><tspan x="0" dy="6">Арбамина</tspan><tspan x="0" dy="6">Мария</tspan><tspan x="0" dy="6">Витальевна</tspan></text></g>
<g id="n180" transform="translate(2821 341)"><use href="#S"/><text y="13.5"><tspan x="0">180</tspan><tspan x="0" dy="6">Павликов</tspan><tspan x="0" dy="6">Николай</tspan><tspan x="0" dy="6">Семенович</tspan></text></g>
<g id="n74" transform="translate(48 408.7)"><use href="#S"/><text y="13.5"><tspan x="0">74 Князев</tspan><tspan x="0" dy="6">Никита</tspan><tspan x="0" dy="6">Александро</tspan><tspan x="0" dy="6">вич</tspan></text></g>
<g id="n1" transform="translate(165 408.7)"><use href="#S"/><text y="13.5"><tspan x="0">1 Смирнов</tspan><tspan x="0" dy="6">Артем</tspan><tspan x="0" dy="6">Борисович</tspan></text></g>
<g id="n18" transform="translate(244 408.7)"><use href="#S"/><text y="13.5"><tspan x="0">18 Смирнов</tspan><tspan x="0" dy="6">Арсений</tspan><tspan x="0" dy="6">Борисович</tspan></text></g>
<g id="n25" transform="translate(673 408.7)"><use href="#S"/><text y="13.5"><tspan x="0">25</tspan><tspan x="0" dy="6">Запольский</tspan><tspan x="0" dy="6">Константин</tspan><tspan x="0" dy="6">Максимович</tspan></text></g>
<g id="n86" transform="translate(748 408.7)"><use href="#S"/><text y="13.5"><tspan x="0">86</tspan><tspan x="0" dy="6">Староверов</tspan><tspan x="0" dy="6">Владимир</tspan><tspan x="0" dy="6">Евгеньевич</tspan></text></g>
<g id="n38" transform="translate(785 408.7)"><use href="#S"/><text y="13.5"><tspan x="0">38 Баглаев</tspan><tspan x="0" dy="6">Николай</tspan><tspan x="0" dy="6">Васильевич</tspan></text></g>
<g id="n39" transform="translate(823 408.7)"><use href="#S"/><text y="13.5"><tspan x="0">39 Баглаев</tspan><tspan x="0" dy="6">Александр</tspan><tspan x="0" dy="6">Васильевич</tspan></text></g>
<g id="n90" transform="translate(860 408.7)"><use href="#S"/><text y="13.5"><tspan x="0">90 Зевин ?</tspan></text></g>
<g id="n41" transform="translate(898 408.7)"><use href="#S"/><text y="13.5"><tspan x="0">41 Жердев</tspan><tspan x="0" dy="6">Никита</tspan><tspan x="0" dy="6">Валерьевич</tspan></text></g>
<g id="n137" transform="translate(935 408.7)"><use href="#S"/><text y="13.5"><tspan x="0">137</tspan><tspan x="0" dy="6">Парфиров</tspan><tspan x="0" dy="6">Артем</tspan></text></g>
<g id="n152" transform="translate(968 408.7)"><use href="#S"/><text y="13.5"><tspan x="0">152  Тимофей</tspan></text></g>
<g id="n8" transform="translate(1002 408.7)"><use href="#C"/><text y="13.5"><tspan x="0">8</tspan><tspan x="0" dy="6">Запольская</tspan><tspan x="0" dy="6">Екатерина</tspan><tspan x="0" dy="6">Максимовна</tspan></text></g>
<g id="n17" transform="translate(1114 408.7)"><use href="#C"/><text y="13.5"><tspan x="0">17</tspan><tspan x="0" dy="6">Смирнова</tspan><tspan x="0" dy="6">Евгения</tspan><tspan x="0" dy="6">Васильевна</tspan></text></g>
<g id="n20" transform="translate(1145 408.7)"><use href="#S"/><text y="13.5"><tspan x="0">20 Смирнов</tspan><tspan x="0" dy="6">Денис</tspan><tspan x="0" dy="6">Сергеевич</tspan></text></g>
<g id="n22" transform="translate(1185 408.7)"><use href="#C"/><text y="13.5"><tspan x="0">22</tspan><tspan x="0" dy="6">Позднева</tspan><tspan x="0" dy="6">Марина</tspan></text></g>
<g id="n21" transform="translate(1223 408.7)"><use href="#S"/><text y="13.5"><tspan x="0">21 Смирнов</tspan><tspan x="0" dy="6">Дмитрий</tspan><tspan x="0" dy="6">Сергеевич</tspan></text></g>
<g id="n83" transform="translate(1289 408.7)"><use href="#C"/><text y="13.5"><tspan x="0">83</tspan><tspan x="0" dy="6">Князевская</tspan><tspan x="0" dy="6">Ирина</tspan><tspan x="0" dy="6">Евгеньевна</tspan></text></g>
<g id="n84" transform="translate(1326 408.7)"><use href="#C"/><text y="13.5"><tspan x="0">84</tspan><tspan x="0" dy="6">Князевская</tspan><tspan x="0" dy="6">Евгения</tspan><tspan x="0" dy="6">Евгеньевна</tspan></text></g>
<g id="n65" transform="translate(1364 408.7)"><use href="#S"/><text y="13.5"><tspan x="0">65 Ярыгин</tspan><tspan x="0" dy="6">Стас</tspan><tspan x="0" dy="6">Михайлович</tspan></text></g>
<g id="n66" transform="translate(1401 408.7)"><use href="#S"/><text y="13.5"><tspan x="0">66 Ярыгин</tspan><tspan x="0" dy="6">Дмитрий</tspan><tspan x="0" dy="6">Михайлович</tspan></text></g>
<g id="n131" transform="translate(1618 408.7)"><use href="#S"/><text y="13.5"><tspan x="0">131</tspan><tspan x="0" dy="6">Богомолов</tspan><tspan x="0" dy="6">Никита</tspan><tspan x="0" dy="6">Михайлович</tspan></text></g>
<g id="n132" transform="translate(1655 408.7)"><use href="#C"/><text y="13.5"><tspan x="0">132 Бойко</tspan><tspan x="0" dy="6">Софа</tspan><tspan x="0" dy="6">Владимиров</tspan><tspan x="0" dy="6">на</tspan></text></g>
<g id="n133" transform="translate(1692 408.7)"><use href="#C"/><text y="13.5"><tspan x="0">133 Бойко</tspan><tspan x="0" dy="6">Вика</tspan><tspan x="0" dy="6">Владимиров</tspan><tspan x="0" dy="6">на</tspan></text></g>
<g id="n79" transform="translate(2350 408.7)"><use href="#S"/><text y="13.5"><tspan x="0">79</tspan><tspan x="0" dy="6">Высоцкий</tspan><tspan x="0" dy="6">Иван</tspan><tspan x="0" dy="6">Иванович</tspan></text></g>
<g id="n80" transform="translate(2388 408.7)"><use href="#S"/><text y="13.5"><tspan x="0">80</tspan><tspan x="0" dy="6">Высоцкий</tspan><tspan x="0" dy="6">Николай</tspan><tspan x="0" dy="6">Иванович</tspan></text></g>
<g id="n136" transform="translate(2467 408.7)"><use href="#C"/><text y="13.5"><tspan x="0">136</tspan><tspan x="0" dy="6">Соловьева</tspan><tspan x="0" dy="6">Яна</tspan><tspan x="0" dy="6">Сергеевна</tspan></text></g>
<g id="n151" transform="translate(2550 408.7)"><use href="#C"/><text y="13.5"><tspan x="0">151</tspan><tspan x="0" dy="6">Соловьева</tspan><tspan x="0" dy="6">Кристина</tspan><tspan x="0" dy="6">Сергеевна</tspan></text></g>
<g id="n155" transform="translate(2692 408.7)"><use href="#C"/><text y="13.5"><tspan x="0">155</tspan><tspan x="0" dy="6">Топилина</tspan><tspan x="0" dy="6">Ульяна</tspan><tspan x="0" dy="6">Константино</tspan><tspan x="0" dy="6">вна</tspan></text></g>
<g id="n156" transform="translate(2729 408.7)"><use href="#C"/><text y="13.5"><tspan x="0">156</tspan><tspan x="0" dy="6">Топилина</tspan><tspan x="0" dy="6">Мила</tspan><tspan x="0" dy="6">Константино</tspan><tspan x="0" dy="6">вна</tspan></text></g>
<g id="n157" transform="translate(2767 408.7)"><use href="#S"/><text y="13.5"><tspan x="0">157</tspan><tspan x="0" dy="6">Топилин</tspan><tspan x="0" dy="6">Леонид</tspan><tspan x="0" dy="6">Константино</tspan><tspan x="0" dy="6">вич</tspan></text></g>
<g id="n178" transform="translate(2804 408.7)"><use href="#S"/><text y="13.5"><tspan x="0">178</tspan><tspan x="0" dy="6">Павликов</tspan><tspan x="0" dy="6">Владимир</tspan><tspan x="0" dy="6">Николаевич</tspan></text></g>
<g id="n179" transform="translate(2841 408.7)"><use href="#C"/><text y="13.5"><tspan x="0">179</tspan><tspan x="0" dy="6">Павликова</tspan><tspan x="0" dy="6">Галина</tspan><tspan x="0" dy="6">Николаевна</tspan></text></g>
<g id="n23" transform="translate(1165 476)"><use href="#S"/><text y="13.5"><tspan x="0">23 Смирнов</tspan><tspan x="0" dy="6">Артем</tspan><tspan x="0" dy="6">Денисович</tspan></text></g>
</g>
<g id="connectors">
<path class="g" d="M2146 35.5V60.7M1872 60.7H2421M1872 60.7V73.5M2421 60.7V73.5"/>
<path class="k" d="M1872 90.5V113L1865 119V135.5"/>
<path class="g" d="M2421 90.5V135.5"/>
<path class="k" d="M190 90.5V119.3M48 119.3H309M48 119.3V135.5M309 119.3V135.5"/>
<path class="k" d="M432 90.5V135.5M354 119.3H1821M354 119.3V135.5M394 119.3V135.5M1821 119.3V135.5"/>
<path class="k" d="M48 152.5V197.5M48 214.5V265"/>
<path class="b" d="M317.5 144H345.5"/>
<path class="k" d="M332 144V177.3H556V197.5"/>
<path class="b" d="M475.5 144H496.5"/>
<path class="k" d="M485 144V179H123V197.5M452 179V197.5"/>
<path class="g" d="M485 180H1420V197.5"/>
<path class="b" d="M734.5 144H760.5"/>
<path class="k" d="M747 144V197.5M635 181H747M635 181V197.5M673 181V197.5M710 181V197.5"/>
<path class="g" d="M747 182.5H1582V197.5"/>
<path class="k" d="M1455 152.5V180.3H1459V197.5"/>
<path class="b" d="M1829.5 144H1856.5"/>
<path class="k" d="M1842 144V197.5M1805 181.7H1842M1805 181.7V197.5"/>
<path class="k" d="M1934 152.5V197.5M1379 181.7H2265M1379 181.7V197.5M1901 181.7V197.5M1967 181.7V197.5M2265 181.7V197.5"/>
<path class="k" d="M2421 152.5V181.7M2313 181.7H2657M2313 181.7V197.5M2350 181.7V197.5M2542 181.7V197.5M2657 181.7V197.5"/>
<path class="k" d="M309 152.5V249"/>
<path class="g" d="M309 215.7H1348V265"/>
<path class="g" d="M309 249H2403V332.5"/>
<path class="b" d="M564.5 206H1450.5M1467.5 206H1492.5M1547.5 206H1573.5"/>
<path class="k" d="M556 214.5V242.7M477 242.7H1069M1069 206V242.7M477 242.7V265M521 242.7V265"/>
<path class="k" d="M1399 206V244.3H1385V265"/>
<path class="g" d="M562 247.5H1476M562 247.5V265M1476 247.5V265"/>
<path class="k" d="M923 214.5V265M885 243H959M885 243V265M959 243V265"/>
<path class="k" d="M1480 206V244.8M1002 244.8H1712M1002 244.8V265M1156 244.8V265M1193 244.8V265M1543 244.8V265M1712 244.8V265"/>
<path class="g" d="M1560 206V246.5H1751V265"/>
<path class="g" d="M2387 214.5V246.5M1671 246.5H2504M1671 246.5V265M2350 246.5V265M2387 246.5V265M2425 246.5V265M2504 246.5V265"/>
<path class="b" d="M2235.5 206H2256.5"/>
<path class="k" d="M2246 206V244.3M2175 244.3H2313M2175 244.3V265M2213 244.3V265M2275 244.3V265M2313 244.3V265"/>
<path class="g" d="M2227 214.5V279.3H2821V332.5"/>
<path class="k" d="M1967 214.5V265"/>
<path class="g" d="M2467 214.5V265"/>
<path class="k" d="M2542 214.5V265M2542 246H2575V265"/>
<path class="b" d="M2624.5 206H2648.5"/>
<path class="k" d="M2636 206V243.3H2604V265M2633 243.3V265"/>
<path class="k" d="M123 214.5V246H144V265"/>
<path class="b" d="M109.5 273.5H135.5"/>
<path class="k" d="M123 273.5V311.7H68V332.5M107 311.7V332.5"/>
<path class="b" d="M268.5 273.5H295.5"/>
<path class="k" d="M282 273.5V308.7H223V332.5"/>
<path class="b" d="M442.5 273.5H468.5"/>
<path class="k" d="M456 273.5V310.3H668V332.5M587 310.3V332.5"/>
<path class="b" d="M529.5 273.5H553.5"/>
<path class="k" d="M541 273.5V312.7M144 312.7H754M144 312.7V332.5M754 312.7V332.5"/>
<path class="b" d="M967.5 273.5H993.5"/>
<path class="g" d="M981 273.5V315M267 315H1173M267 315V332.5M1136 315V332.5M1173 315V332.5"/>
<path class="k" d="M923 282V313.7M794 313.7H1056M794 313.7V332.5M831 313.7V332.5M869 313.7V332.5M906 313.7V332.5M944 313.7V332.5M981 313.7V332.5M1018 313.7V332.5M1056 313.7V332.5"/>
<path class="k" d="M1227 282V313.7M1215 313.7H1252M1215 313.7V332.5M1252 313.7V332.5"/>
<path class="b" d="M1312.5 273.5H1339.5"/>
<path class="k" d="M1325 273.5V311H1289V332.5"/>
<path class="k" d="M1385 282V313.7H1439V332.5M1399 313.7V332.5"/>
<path class="k" d="M1476 282V332.5"/>
<path class="k" d="M1543 282V313.7M1510 313.7H1581M1510 313.7V332.5M1543 313.7V332.5M1581 313.7V332.5"/>
<path class="b" d="M1679.5 273.5H1703.5"/>
<path class="k" d="M1692 273.5V309.3M1618 309.3H1696M1618 309.3V332.5M1696 309.3V332.5"/>
<path class="g" d="M1696 309.3H2489V332.5"/>
<path class="b" d="M1759.5 273.5H1784.5"/>
<path class="k" d="M1772 273.5V311M1735 311H1810M1735 311V332.5M1772 311V332.5M1810 311V332.5"/>
<path class="k" d="M1967 282V313.7M1909 313.7H2021M1909 313.7V332.5M1946 313.7V332.5M1984 313.7V332.5M2021 313.7V332.5"/>
<path class="b" d="M2142.5 273.5H2166.5"/>
<path class="k" d="M2155 273.5V312.7M2059 312.7H2163M2059 312.7V332.5M2092 312.7V332.5M2125 312.7V332.5M2163 312.7V332.5"/>
<path class="k" d="M2213 282V313.7M2200 313.7H2238M2200 313.7V332.5M2238 313.7V332.5"/>
<path class="k" d="M2275 282V332.5"/>
<path class="g" d="M2313 282V332.5"/>
<path class="k" d="M2467 282V313.7H2529V332.5M2504 282V313.7"/>
<path class="g" d="M2467 312.7H2646M2609 312.7V332.5M2646 312.7V332.5"/>
<path class="k" d="M2643 332.5V328.3H2784V332.5"/>
<path class="b" d="M35.5 341H59.5"/>
<path class="g" d="M48 341V400"/>
<path class="b" d="M152.5 341H258.5"/>
<path class="k" d="M205 341V379.3H165V400M244 341V400"/>
<path class="g" d="M223 349.5V381H2572V349.5M709 349.5V381M731 341V381M1093 349.5V381M673 381V400M748 381V400M935 381V400M968 381V400M1002 381V400M1326 381V400"/>
<path class="b" d="M551.5 341H578.5"/>
<path class="k" d="M565 341V377H823M785 377V400M823 377V400"/>
<path class="b" d="M634.5 341H659.5"/>
<path class="k" d="M647 341V379.3H898V400"/>
<path class="b" d="M717.5 341H745.5"/>
<path class="b" d="M1101.5 341H1127.5"/>
<path class="k" d="M1114 341V400"/>
<path class="b" d="M1181.5 341H1206.5"/>
<path class="k" d="M1194 341V379.3M1145 379.3H1223M1145 379.3V400M1223 379.3V400"/>
<path class="k" d="M1289 349.5V400"/>
<path class="b" d="M1363.5 341H1390.5"/>
<path class="k" d="M1377 341V379.3M1364 379.3H1401M1364 379.3V400M1401 379.3V400"/>
<path class="k" d="M1618 349.5V400"/>
<path class="b" d="M1662.5 341H1687.5"/>
<path class="k" d="M1675 341V379.3M1655 379.3H1692M1655 379.3V400M1692 379.3V400"/>
<path class="b" d="M2369.5 341H2394.5"/>
<path class="k" d="M2382 341V379.3M2350 379.3H2388M2350 379.3V400M2388 379.3V400"/>
<path class="b" d="M2497.5 341H2563.5"/>
<path class="k" d="M2509 341V379.3H2467V400M2550 341V400"/>
<path class="g" d="M2489 354.3H2646"/>
<path class="b" d="M2749.5 341H2775.5"/>
<path class="k" d="M2763 341V379.3M2692 379.3H2767M2692 379.3V400M2729 379.3V400M2767 379.3V400"/>
<path class="k" d="M2821 349.5V381M2804 381H2841M2804 381V400M2841 381V400"/>
<path class="b" d="M1153.5 408.7H1176.5"/>
<path class="k" d="M1165 408.7V467.5"/>
</g>
</svg>
